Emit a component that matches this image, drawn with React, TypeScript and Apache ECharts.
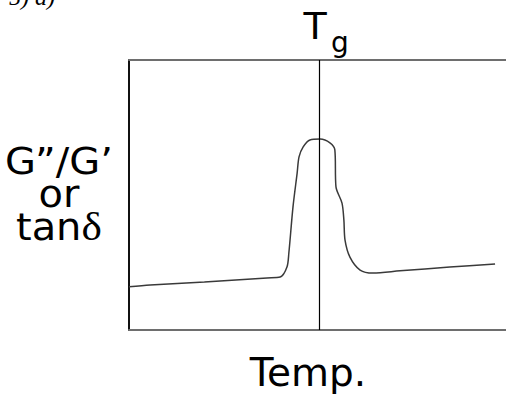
import React, { useEffect, useRef } from "react";
import * as echarts from "echarts";

// x and y in arbitrary units (0..100 across the plot box)
const tempX = [0, 5.6, 20, 36.6, 40.1, 41.9, 42.4, 43.5, 44.6, 45.1, 46.2, 48.0, 50.7, 53.3, 54.6, 54.9, 56.5, 57.0, 57.3, 58.6, 61.3, 64.7, 71.9, 85.1, 97.1];
const lossY = [16, 16.7, 17.8, 19.3, 19.6, 23.3, 28.5, 45.6, 58.1, 64.1, 67.8, 70.4, 70.7, 69.3, 66.7, 53.0, 47.0, 40.7, 33.3, 27.0, 22.2, 21.1, 21.9, 23.3, 24.4];
const tgX = 50.4;

const yLabelLines = ["G”/G’", "or", "tan", "δ"];
const xLabel = "Temp.";
const figLabel = "5) a)";

export default function App() {
  const ref = useRef<HTMLDivElement>(null);
  useEffect(() => {
    if (!ref.current) return;
    const chart = echarts.init(ref.current, null, { renderer: "svg" });
    const sans = "DejaVu Sans";
    chart.setOption({
      animation: false,
      backgroundColor: "#fff",
      grid: { left: 129, top: 60, right: 0, bottom: 66 },
      xAxis: [
        {
          type: "value", min: 0, max: 100, position: "bottom",
          axisLine: { show: true, lineStyle: { color: "#6e6e6e", width: 2 } },
          axisTick: { show: false }, axisLabel: { show: false }, splitLine: { show: false },
        },
        {
          type: "value", min: 0, max: 100, position: "top",
          axisLine: { show: true, lineStyle: { color: "#6e6e6e", width: 2 } },
          axisTick: { show: false }, axisLabel: { show: false }, splitLine: { show: false },
        },
      ],
      yAxis: {
        type: "value", min: 0, max: 100,
        axisLine: { show: true, lineStyle: { color: "#111", width: 2 } },
        axisTick: { show: false }, axisLabel: { show: false }, splitLine: { show: false },
      },
      series: [
        {
          type: "line",
          data: tempX.map((x, i) => [x, lossY[i]]),
          smooth: 0.3,
          symbol: "none",
          lineStyle: { color: "#3a3a3a", width: 1.5 },
          markLine: {
            silent: true,
            symbol: "none",
            label: { show: false },
            lineStyle: { color: "#000", width: 1.2, type: "solid" },
            data: [{ xAxis: tgX }],
          },
        },
      ],
      graphic: [
        {
          type: "text", x: 9, y: 9,
          style: { text: figLabel, font: "italic 24px 'Liberation Serif'", fill: "#000", align: "left", verticalAlign: "bottom" },
        },
        {
          type: "text", x: 315, y: 26,
          style: { text: "T", font: `38px '${sans}'`, fill: "#000", align: "center", verticalAlign: "middle" },
        },
        {
          type: "text", x: 340, y: 42,
          style: { text: "g", font: `28px '${sans}'`, fill: "#000", align: "center", verticalAlign: "middle" },
        },
        {
          type: "text", x: 64, y: 194, originX: 64, originY: 194, scaleX: 1.08,
          style: {
            text: `{a|${yLabelLines[0]}}\n{a|${yLabelLines[1]}}\n{a|${yLabelLines[2]}}{d|${yLabelLines[3]}}`,
            align: "center", verticalAlign: "middle", fill: "#000",
            rich: {
              a: { fontFamily: sans, fontSize: 37, lineHeight: 33, fill: "#000" },
              d: { fontFamily: "Liberation Serif", fontSize: 40, lineHeight: 33, fill: "#000" },
            },
          },
        },
        {
          type: "text", x: 308, y: 372,
          style: { text: xLabel, font: `39px '${sans}'`, fill: "#000", align: "center", verticalAlign: "middle" },
        },
      ],
    });
    return () => chart.dispose();
  }, []);
  return <div ref={ref} style={{ position: "fixed", left: 0, top: 0, width: 506, height: 396 }} />;
}
